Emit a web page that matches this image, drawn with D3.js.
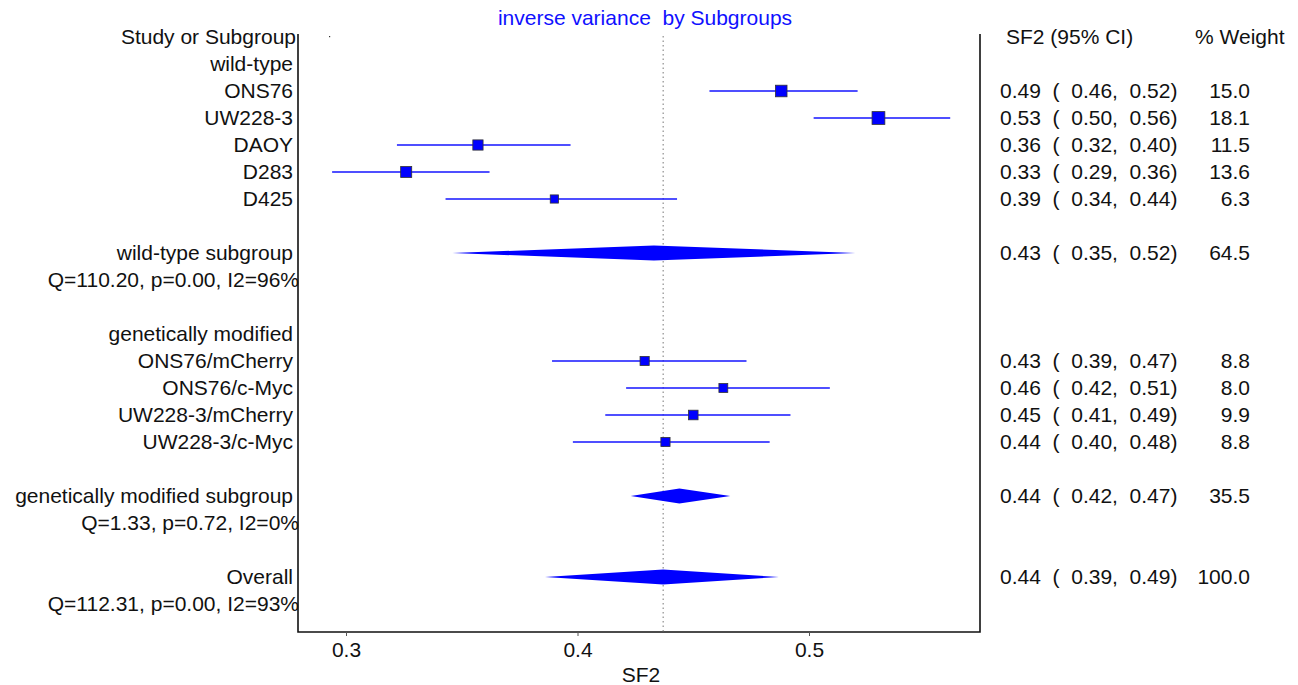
<!DOCTYPE html>
<head>
  <meta charset="utf-8" />
  <script src="https://d3js.org/d3.v7.min.js"></script>
  <style>
    body { margin: 0; background: #fff; }
    svg text { font-family: "Liberation Sans", Arial, sans-serif; font-size: 21px; fill: #111; white-space: pre; }
  </style>
</head>
<body>
  <script>
    // single studies
    var studyLabels = ["ONS76", "UW228-3", "DAOY", "D283", "D425",
                       "ONS76/mCherry", "ONS76/c-Myc", "UW228-3/mCherry", "UW228-3/c-Myc"];
    var studyRows   = [2, 3, 4, 5, 6, 12, 13, 14, 15];
    var studyEst    = [0.488, 0.530, 0.357, 0.326, 0.390, 0.429, 0.463, 0.450, 0.438];
    var studyLow    = [0.457, 0.502, 0.322, 0.294, 0.343, 0.389, 0.421, 0.412, 0.398];
    var studyHigh   = [0.521, 0.561, 0.397, 0.362, 0.443, 0.473, 0.509, 0.492, 0.483];
    var studyWeight = [15.0, 18.1, 11.5, 13.6, 6.3, 8.8, 8.0, 9.9, 8.8];

    // pooled estimates
    var poolLabels = ["wild-type subgroup", "genetically modified subgroup", "Overall"];
    var poolRows   = [8, 17, 20];
    var poolEst    = [0.433, 0.444, 0.437];
    var poolLow    = [0.346, 0.423, 0.386];
    var poolHigh   = [0.520, 0.466, 0.487];
    var poolWeight = [64.5, 35.5, 100.0];
    var poolStats  = ["Q=110.20, p=0.00, I2=96%", "Q=1.33, p=0.72, I2=0%", "Q=112.31, p=0.00, I2=93%"];

    var groupLabels = ["wild-type", "genetically modified"];
    var groupRows   = [1, 11];

    var xTicks = [0.3, 0.4, 0.5];

    var width = 1298, height = 685;
    var left = 298, right = 980, bottom = 632;

    var svg = d3.select("body").append("svg")
      .attr("width", width).attr("height", height);

    var x = d3.scaleLinear().domain([0.3, 0.5]).range([346, 809]);
    var y = function (row) { return 37 + row * 27; };
    var size = d3.scaleLinear().domain([6.3, 18.1]).range([8.2, 12.8]);
    var f2 = d3.format(".2f"), f1 = d3.format(".1f");
    var ciText = function (e, l, h) { return f2(e) + "  (  " + f2(l) + ",  " + f2(h) + ")"; };

    // title
    svg.append("text").attr("x", 645).attr("y", 18).attr("dy", "0.35em")
      .attr("text-anchor", "middle").style("fill", "#1010ff")
      .text("inverse variance  by Subgroups");

    // frame
    svg.append("path")
      .attr("d", "M" + left + ",34V" + bottom + "H" + right + "V34")
      .attr("fill", "none").attr("stroke", "#111").attr("stroke-width", 1.6);
    svg.append("rect").attr("x", 329).attr("y", 36).attr("width", 1.2).attr("height", 1.2).attr("fill", "#333");

    // reference line at overall estimate
    svg.append("line")
      .attr("x1", x(poolEst[2])).attr("x2", x(poolEst[2]))
      .attr("y1", 36).attr("y2", bottom)
      .attr("stroke", "#777").attr("stroke-width", 1).attr("stroke-dasharray", "1.5,3");

    // x axis
    var axis = svg.append("g").attr("transform", "translate(0," + bottom + ")")
      .call(d3.axisBottom(x).tickValues(xTicks).tickSize(4).tickFormat(d3.format(".1f")));
    axis.select(".domain").remove();
    axis.selectAll("line").attr("stroke", "#555");
    axis.selectAll("text").attr("y", 18).attr("dy", "0.35em").style("font-size", "21px").style("font-family", null);
    svg.append("text").attr("x", 641).attr("y", 675).attr("dy", "0.35em")
      .attr("text-anchor", "middle").text("SF2");

    // headers
    svg.append("text").attr("x", 296).attr("y", y(0)).attr("dy", "0.35em")
      .attr("text-anchor", "end").text("Study or Subgroup");
    svg.append("text").attr("x", 1006).attr("y", y(0)).attr("dy", "0.35em").text("SF2 (95% CI)");
    svg.append("text").attr("x", 1195).attr("y", y(0)).attr("dy", "0.35em").text("% Weight");

    // group headings
    svg.selectAll(".grp").data(groupLabels).join("text")
      .attr("x", 293).attr("y", function (d, i) { return y(groupRows[i]); }).attr("dy", "0.35em")
      .attr("text-anchor", "end").text(function (d) { return d; });

    // studies
    var st = svg.selectAll(".study").data(studyLabels).join("g").attr("class", "study");
    st.append("text").attr("x", 293).attr("y", function (d, i) { return y(studyRows[i]); })
      .attr("dy", "0.35em").attr("text-anchor", "end").text(function (d) { return d; });
    st.append("line")
      .attr("x1", function (d, i) { return x(studyLow[i]); })
      .attr("x2", function (d, i) { return x(studyHigh[i]); })
      .attr("y1", function (d, i) { return y(studyRows[i]); })
      .attr("y2", function (d, i) { return y(studyRows[i]); })
      .attr("stroke", "#1414ff").attr("stroke-width", 1.6);
    st.append("rect")
      .attr("x", function (d, i) { return x(studyEst[i]) - size(studyWeight[i]) / 2; })
      .attr("y", function (d, i) { return y(studyRows[i]) - size(studyWeight[i]) / 2; })
      .attr("width", function (d, i) { return size(studyWeight[i]); })
      .attr("height", function (d, i) { return size(studyWeight[i]); })
      .attr("fill", "#0000ff").attr("stroke", "#333").attr("stroke-width", 0.8);
    st.append("text").attr("x", 1000).attr("y", function (d, i) { return y(studyRows[i]); })
      .attr("dy", "0.35em")
      .text(function (d, i) { return ciText(studyEst[i], studyLow[i], studyHigh[i]); });
    st.append("text").attr("x", 1250).attr("y", function (d, i) { return y(studyRows[i]); })
      .attr("dy", "0.35em").attr("text-anchor", "end")
      .text(function (d, i) { return f1(studyWeight[i]); });

    // pooled
    var pl = svg.selectAll(".pool").data(poolLabels).join("g").attr("class", "pool");
    pl.append("text").attr("x", 293).attr("y", function (d, i) { return y(poolRows[i]); })
      .attr("dy", "0.35em").attr("text-anchor", "end").text(function (d) { return d; });
    pl.append("text").attr("x", 299).attr("y", function (d, i) { return y(poolRows[i] + 1); })
      .attr("dy", "0.35em").attr("text-anchor", "end").text(function (d, i) { return poolStats[i]; });
    pl.append("path")
      .attr("d", function (d, i) {
        var yy = y(poolRows[i]);
        return "M" + x(poolLow[i]) + "," + yy + "L" + x(poolEst[i]) + "," + (yy - 7.5) +
               "L" + x(poolHigh[i]) + "," + yy + "L" + x(poolEst[i]) + "," + (yy + 7.5) + "Z";
      })
      .attr("fill", "#0000ff");
    pl.append("text").attr("x", 1250).attr("y", function (d, i) { return y(poolRows[i]); })
      .attr("dy", "0.35em").attr("text-anchor", "end")
      .text(function (d, i) { return f1(poolWeight[i]); });
    pl.append("text").attr("x", 1000).attr("y", function (d, i) { return y(poolRows[i]); })
      .attr("dy", "0.35em")
      .text(function (d, i) { return ciText(poolEst[i], poolLow[i], poolHigh[i]); });
  </script>
</body>
